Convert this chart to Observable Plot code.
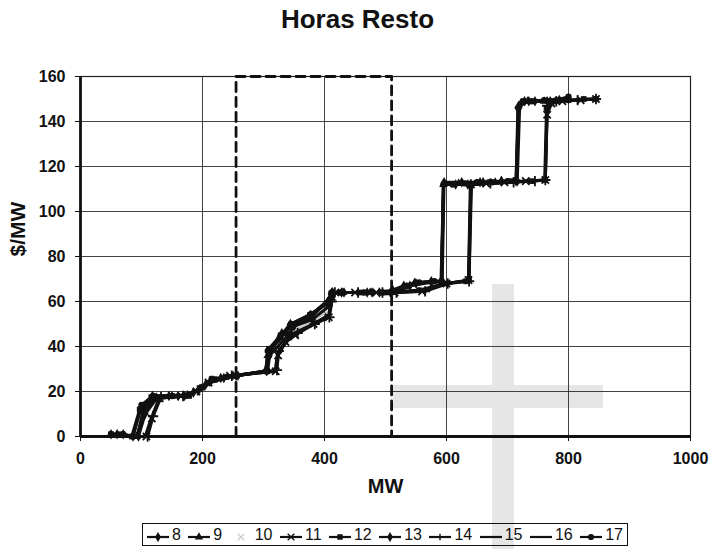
<!DOCTYPE html>
<html><head><meta charset="utf-8">
<script src="https://cdn.jsdelivr.net/npm/d3@7"></script>
<script src="https://cdn.jsdelivr.net/npm/@observablehq/plot@0.6"></script>
<style>
body{margin:0;background:#fff;font-family:"Liberation Sans",Arial,sans-serif;}
#wrap{position:relative;width:715px;height:549px;overflow:hidden;}
.wm{position:absolute;background:#e6e6e6;z-index:0;}
#title{position:relative;z-index:1;height:50px;text-align:center;font-weight:bold;font-size:26px;line-height:26px;padding-top:6px;box-sizing:border-box;color:#111;}
#chart{position:relative;z-index:1;}
#chart svg{background:transparent;display:block;}
#legend{position:absolute;z-index:1;left:142px;top:523px;width:486px;height:23px;border:1.5px solid #111;box-sizing:border-box;display:flex;align-items:center;justify-content:space-between;padding:0 4px 0 3px;font-size:16px;color:#111;}
#legend .item{display:flex;align-items:center;gap:2px;}
</style></head>
<body>
<div id="wrap">
  <div class="wm" style="left:492px;top:284px;width:22px;height:265px;"></div>
  <div class="wm" style="left:393px;top:385px;width:210px;height:23px;"></div>
  <div id="title">Horas Resto</div>
  <div id="chart"></div>
  <div id="legend"></div>
</div>
<script>
// Hours (series) and their supply-curve points [MW, $/MW]
const hours = [8, 9, 10, 11, 12, 13, 14, 15, 16, 17];
const h8  = [[50,1],[60,1],[70,1],[86,0],[99,13],[118,18],[145,18],[170,18],[195,21],[214,25],[235,26],[255,27],[305,29],[308,38],[326,44],[344,50],[377,54],[406,60],[412,64],[428,64],[470,64],[490,64],[512,65],[530,67],[550,68],[575,69],[591,69],[595,112],[615,112],[635,112],[660,113],[690,113.5],[714,113.5],[717,146],[728,149],[745,149],[765,149],[785,149.5],[800,150]];
const h9  = [[92,0],[105,11],[124,17.5],[150,18],[175,18.5],[198,21.5],[218,25],[250,27],[303,29],[307,36],[330,46],[346,49],[378,53],[405,60],[413,64],[430,64],[475,64],[510,64],[548,68.5],[592,69],[595,112],[620,112.5],[650,112.5],[680,113],[714,114],[718,147],[733,149],[760,149],[800,150.5]];
const h10 = [[105,0],[115,9],[128,17],[160,18],[185,19],[205,23],[225,26],[260,27],[318,29],[322,37],[348,47],[380,51],[408,56],[414,64],[440,64],[480,64],[515,64],[560,65],[600,68.5],[636,69.5],[640,112],[680,113],[720,113.5],[760,114],[763,145],[775,149],[810,150],[845,150]];
const h11 = [[108,0],[117,8],[130,17],[165,18],[190,20],[210,24],[245,27],[320,29],[324,36],[336,42],[352,45],[382,50],[407,53],[412,62],[418,64],[450,64],[485,64],[515,64],[560,64.5],[600,68],[636,69.5],[640,112],[665,112.5],[695,113],[730,113.5],[762,114],[765,143],[772,148],[790,149],[820,149.5],[845,150]];
const h12 = [[50,1],[65,1],[84,0],[97,12],[116,17.5],[150,18],[178,18],[200,22],[220,25.5],[255,27],[306,29],[309,39],[328,45],[343,49],[376,54],[404,59],[411,63.5],[425,64],[460,64],[500,64],[515,64.5],[555,65],[598,68],[632,69],[637,70],[641,112],[670,113],[705,113.5],[740,113.5],[761,114],[764,146],[770,149],[800,149.5],[825,150],[845,150]];
const h13 = [[95,0],[106,10],[125,17],[160,18],[185,19.5],[205,23],[230,26],[258,27],[307,29.5],[310,36],[340,45],[350,49],[380,52],[408,58],[413,64],[432,64],[478,64],[508,64],[540,67],[575,68.5],[593,69],[596,113],[625,113],[655,113],[690,113.5],[716,113.5],[720,147],[735,149],[770,149],[800,150]];
const h14 = [[110,0],[119,9],[132,17.5],[168,18],[192,20.5],[212,24.5],[248,27],[322,29.5],[325,38],[345,45],[356,46],[384,50],[408,53],[412,60],[417,64],[455,64],[495,64],[518,64],[565,64.5],[602,68],[637,69],[640,112],[672,112.5],[710,113],[745,113.5],[762,114],[765,147],[780,149],[815,149.5],[845,150]];
const h15 = [[93,0],[103,12],[121,18],[170,18.5],[197,21],[216,24.5],[252,27],[304,29],[307,37],[345,49],[376,53.5],[407,61],[413,64],[480,64],[511,64],[552,68],[592,69],[595,112],[650,112.5],[715,113.5],[718,146],[730,149],[800,150]];
const h16 = [[106,0],[116,8],[129,17],[170,18],[193,20.5],[213,24],[250,27],[319,29],[323,37],[350,46],[381,50],[407,54],[413,63],[418,64],[490,64],[517,64],[562,65],[601,68],[636,69.5],[639,112],[700,113],[762,114],[765,146],[775,149],[845,150]];
const h17 = [[50,1],[70,1],[86,0],[100,14],[119,18],[150,18],[172,18],[196,21.5],[215,25.5],[240,26.5],[256,27],[304,29],[307,38],[327,44],[345,50],[378,54.5],[407,60],[412,64],[428,64],[465,64],[495,64],[512,64.5],[535,67],[555,68.5],[580,69],[592,69],[595,112],[610,112],[630,112.5],[650,113],[675,113],[700,113.5],[715,113.5],[718,146],[725,149],[740,149],[760,149.5],[780,149.5],[800,151]];
const seriesPoints = [h8, h9, h10, h11, h12, h13, h14, h15, h16, h17];
// marker per hour (null = line only)
const markers = ["diamond", "triangle", "times", "times", "square", "diamond", "plus", null, null, "circle"];
// dashed reference window
const windowMW = [255, 510];
const windowTop = 160;
const xTicks = [0, 200, 400, 600, 800, 1000];
const yTicks = [0, 20, 40, 60, 80, 100, 120, 140, 160];

const data = [];
hours.forEach((h, i) => seriesPoints[i].forEach(([mw, p]) => data.push({hour: h, mw, p, marker: markers[i]})));
const gray = d => d.hour === 10;
const filledSyms = new Set(["diamond", "triangle", "square", "circle"]);
const windowPts = [{x: windowMW[0], y: 0}, {x: windowMW[0], y: windowTop}, {x: windowMW[1], y: windowTop}, {x: windowMW[1], y: 0}];

const chart = Plot.plot({
  width: 715, height: 470,
  marginTop: 26, marginBottom: 84, marginLeft: 80, marginRight: 25,
  style: {fontFamily: "'Liberation Sans', Arial, sans-serif", fontSize: "16px", fontWeight: "bold", color: "#111", background: "transparent"},
  x: {domain: [0, 1000], ticks: xTicks, label: null},
  y: {domain: [0, 160], ticks: yTicks, label: null},
  symbol: {domain: ["diamond","triangle","times","square","plus","circle"], range: ["diamond","triangle","times","square","plus","circle"]},
  marks: [
    Plot.gridX(xTicks, {stroke: "#222", strokeOpacity: 0.85, strokeWidth: 1}),
    Plot.gridY(yTicks, {stroke: "#222", strokeOpacity: 0.85, strokeWidth: 1}),
    Plot.frame({stroke: "#222", strokeWidth: 1.2}),
    Plot.axisX({ticks: xTicks, tickSize: 5, tickPadding: 11, tickFormat: d => String(d), label: null, fontSize: 16, fontWeight: "bold"}),
    Plot.axisY({ticks: yTicks, tickSize: 5, tickPadding: 10, tickFormat: d => String(d), label: null, fontSize: 16, fontWeight: "bold"}),
    Plot.line(windowPts, {x: "x", y: "y", stroke: "#111", strokeWidth: 2.8, strokeDasharray: "9,6"}),
    Plot.line(data.filter(gray), {x: "mw", y: "p", z: "hour", stroke: "#c8c8c8", strokeWidth: 1.5}),
    Plot.line(data.filter(d => !gray(d)), {x: "mw", y: "p", z: "hour", stroke: "#111", strokeWidth: 3, strokeLinejoin: "round"}),
    Plot.dot(data.filter(d => d.marker && filledSyms.has(d.marker)), {x: "mw", y: "p", symbol: "marker", fill: "#111", r: 3.2}),
    Plot.dot(data.filter(d => d.marker && !filledSyms.has(d.marker) && !gray(d)), {x: "mw", y: "p", symbol: "marker", stroke: "#111", strokeWidth: 1.8, r: 3.4}),
    Plot.ruleX([0], {stroke: "#111", strokeWidth: 2.8}),
    Plot.ruleY([0], {stroke: "#111", strokeWidth: 2.8}),
    Plot.text(["MW"], {frameAnchor: "bottom", dy: 56, fontSize: 20, fontWeight: "bold", fill: "#111"}),
    Plot.text(["$/MW"], {frameAnchor: "left", dx: -62, rotate: -90, fontSize: 21, fontWeight: "bold", fill: "#111"})
  ]
});
document.getElementById("chart").appendChild(chart);

// legend
const symMap = {diamond: d3.symbolDiamond, triangle: d3.symbolTriangle, times: d3.symbolTimes, square: d3.symbolSquare, plus: d3.symbolPlus || d3.symbolCross, circle: d3.symbolCircle};
const leg = document.getElementById("legend");
hours.forEach((h, i) => {
  const item = document.createElement("span");
  item.className = "item";
  const s = d3.create("svg").attr("width", 24).attr("height", 14);
  const col = h === 10 ? "#cfcfcf" : "#111";
  if (h !== 10) s.append("line").attr("x1", 1).attr("x2", 23).attr("y1", 9).attr("y2", 9).attr("stroke", col).attr("stroke-width", 2.2);
  const m = markers[i];
  if (m) {
    const filled = filledSyms.has(m);
    const size = m === "plus" ? 16 : 30;
    s.append("path").attr("transform", "translate(12,9)").attr("d", d3.symbol(symMap[m], size)())
      .attr("fill", filled ? col : "none").attr("stroke", filled ? "none" : col).attr("stroke-width", 1.4);
  }
  item.appendChild(s.node());
  const t = document.createElement("span");
  t.textContent = h;
  item.appendChild(t);
  leg.appendChild(item);
});
</script>
</body></html>
